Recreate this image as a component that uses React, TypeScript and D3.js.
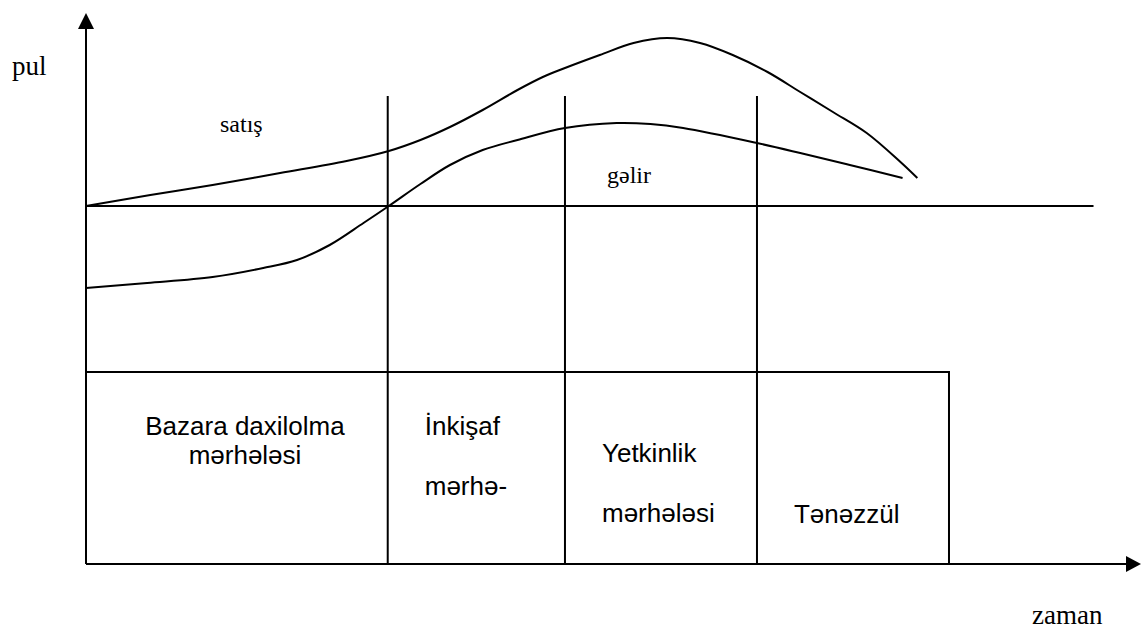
import React from "react";
import * as d3 from "d3";

// time runs 0..100 along the x axis, money in arbitrary units (0 = break-even line)
const salesT = [0, 6.1, 12.0, 18.4, 24.7, 28.7, 31.7, 34.5, 37.6, 40.9, 43.3, 45.4, 48.7, 51.9, 55.1, 58.2, 61.3, 64.6, 67.7, 70.8, 74.0, 77.2, 78.8];
const salesV = [0, 1.1, 2.1, 3.3, 4.5, 5.5, 6.6, 7.9, 9.6, 11.6, 12.9, 13.8, 15.1, 16.3, 16.8, 16.3, 15.1, 13.4, 11.4, 9.4, 7.3, 4.4, 2.8];

const profitT = [0, 5.8, 12.0, 16.8, 20.0, 23.1, 26.3, 28.7, 31.7, 34.5, 37.6, 40.9, 45.4, 50.3, 53.5, 56.6, 63.6, 67.7, 72.4, 77.4];
const profitV = [-8.2, -7.7, -7.1, -6.2, -5.4, -3.9, -1.7, 0, 2.2, 4.1, 5.6, 6.6, 7.8, 8.3, 8.2, 7.8, 6.3, 5.3, 4.1, 2.8];

// stage boundaries on the time axis
const stageEnds = [28.6, 45.4, 63.6, 81.8];
const stageLines = [
  ["Bazara daxilolma", "mərhələsi"],
  ["İnkişaf", "", "mərhə-"],
  ["Yetkinlik", "", "mərhələsi"],
  ["Tənəzzül"],
];
const dividerTop = 11.0;
const boxTop = -16.6;
const zeroEnd = 95.5;

const yLabel = "pul";
const xLabel = "zaman";
const salesLabel = "satış";
const profitLabel = "gəlir";

export default function App() {
  const width = 1142;
  const height = 630;

  const x = d3.scaleLinear().domain([0, 100]).range([86, 1141]);
  const y = d3.scaleLinear().domain([-35.8, 19.3]).range([564, 13]);

  const line = d3
    .line<[number, number]>()
    .x(d => x(d[0]))
    .y(d => y(d[1]))
    .curve(d3.curveCatmullRom.alpha(0.5));

  const sales = salesT.map((t, i) => [t, salesV[i]] as [number, number]);
  const profit = profitT.map((t, i) => [t, profitV[i]] as [number, number]);

  const x0 = x(0);
  const yMin = y(-35.8);
  const yMax = y(19.3);
  const xMax = x(100);

  // text layout per stage: [anchor, x offset from stage start, first baseline, line step]
  const stageLayout: [string, number, number, number][] = [
    ["middle", 159, 435, 29],
    ["start", 37, 435, 30],
    ["start", 37, 462, 30],
    ["start", 37, 523, 30],
  ];

  const stageStarts = [0, ...stageEnds.slice(0, -1)];

  const stroke = "#000";
  const sw = 2;

  return (
    <svg
      width={width}
      height={height}
      style={{ position: "absolute", left: 0, top: 0, background: "#fff" }}
    >
      <rect width={width} height={height} fill="#fff" />

      {/* axes */}
      <line x1={x0} y1={yMin} x2={x0} y2={yMax + 15} stroke={stroke} strokeWidth={sw} />
      <path d={`M${x0},${yMax} L${x0 - 8},${yMax + 16} L${x0 + 8},${yMax + 16} Z`} fill={stroke} />
      <line x1={x0} y1={yMin} x2={xMax - 14} y2={yMin} stroke={stroke} strokeWidth={sw} />
      <path d={`M${xMax},${yMin} L${xMax - 15},${yMin - 8} L${xMax - 15},${yMin + 8} Z`} fill={stroke} />

      {/* break-even line */}
      <line x1={x0} y1={y(0)} x2={x(zeroEnd)} y2={y(0)} stroke={stroke} strokeWidth={sw} />

      {/* stage dividers */}
      {stageEnds.slice(0, -1).map((t, i) => (
        <line key={i} x1={x(t)} y1={y(dividerTop)} x2={x(t)} y2={yMin} stroke={stroke} strokeWidth={sw} />
      ))}

      {/* stage box */}
      <path
        d={`M${x0},${y(boxTop)} L${x(stageEnds[3])},${y(boxTop)} L${x(stageEnds[3])},${yMin}`}
        fill="none"
        stroke={stroke}
        strokeWidth={sw}
      />

      {/* curves */}
      <path d={line(sales) || ""} fill="none" stroke={stroke} strokeWidth={sw} />
      <path d={line(profit) || ""} fill="none" stroke={stroke} strokeWidth={sw} />

      {/* serif labels */}
      <g fontFamily="'Liberation Serif', 'Times New Roman', serif" fill="#000">
        <text x={12} y={75} fontSize={27}>{yLabel}</text>
        <text x={1032} y={624} fontSize={27}>{xLabel}</text>
        <text x={220} y={132} fontSize={24}>{salesLabel}</text>
        <text x={607} y={183} fontSize={24}>{profitLabel}</text>
      </g>

      {/* stage labels */}
      <g fontFamily="'Liberation Sans', Arial, sans-serif" fontSize={26} fill="#000">
        {stageLines.map((lines, i) => {
          const [anchor, dx, base, step] = stageLayout[i];
          return lines.map((s, j) => (
            <text key={i + "-" + j} x={x(stageStarts[i]) + dx} y={base + j * step} textAnchor={anchor}>
              {s}
            </text>
          ));
        })}
      </g>
    </svg>
  );
}
